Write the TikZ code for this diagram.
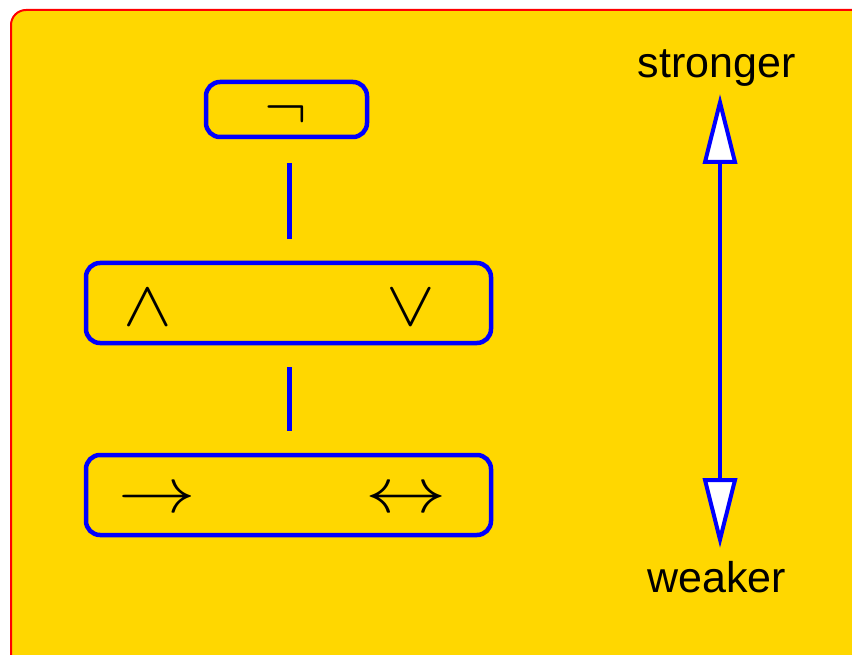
\documentclass[tikz,border=0pt]{standalone}
\usepackage{fontspec}
\setmainfont{Liberation Sans}
\usetikzlibrary{arrows.meta}
\definecolor{bg}{RGB}{255,215,0}
\tikzset{
  box/.style={draw=blue, line width=4.5pt, rounded corners=14pt, inner sep=0pt, outer sep=0pt},
  sym/.style={inner sep=0pt, outer sep=0pt, font=\fontsize{10}{12}\selectfont, anchor=base, scale=6.4},
  lbl/.style={inner sep=0pt, font=\fontsize{43}{48}\selectfont, anchor=base},
  link/.style={draw=blue, line width=5pt},
  bigtip/.tip={Triangle[fill=white, length=70pt, width=34pt]},
  scalearrow/.style={draw=blue, line width=4pt, bigtip-bigtip}
}
\begin{document}
\begin{tikzpicture}[x=1pt, y=-1pt]
\useasboundingbox (0,0) rectangle (852,655);
\clip (0,0) rectangle (852,655);
\draw[red, line width=2pt, fill=bg, rounded corners=15pt] (11,10) rectangle (900,700);
% boxes
\node[box, minimum width=161pt, minimum height=55pt] (neg) at (286.5,109.5) {};
\node[box, minimum width=405pt, minimum height=80pt] (andor) at (288.5,303) {};
\node[box, minimum width=405pt, minimum height=80pt] (imp) at (288.5,495) {};
% symbol positions
\coordinate (pneg) at (286,129);
\coordinate (pand) at (148,325.5);
\coordinate (por) at (411,325.5);
\coordinate (pimp) at (157.5,512);
\coordinate (piff) at (406.5,512);
% symbols
\node[sym] (negs) at (pneg) {$\neg$};
\node[sym, xscale=1.14] (ands) at (pand) {$\wedge$};
\node[sym, xscale=1.14] (ors) at (por) {$\vee$};
\node[sym, xscale=1.21] (imps) at (pimp) {$\rightarrow$};
\node[sym, xscale=1.27] (iffs) at (piff) {$\leftrightarrow$};
% links
\draw[link, shorten <=26pt, shorten >=24pt] (neg.south -| 289,0) -- (andor.north -| 289,0);
\draw[link, shorten <=24pt, shorten >=24pt] (andor.south -| 289,0) -- (imp.north -| 289,0);
% scale arrow
\node[lbl] (strong) at (716.5,78) {stronger};
\node[lbl] (weak) at (716.5,592) {weaker};
\coordinate (stip) at (720,94);
\coordinate (wtip) at (720,548);
\draw[scalearrow] (stip) -- (wtip);
\end{tikzpicture}
\end{document}
